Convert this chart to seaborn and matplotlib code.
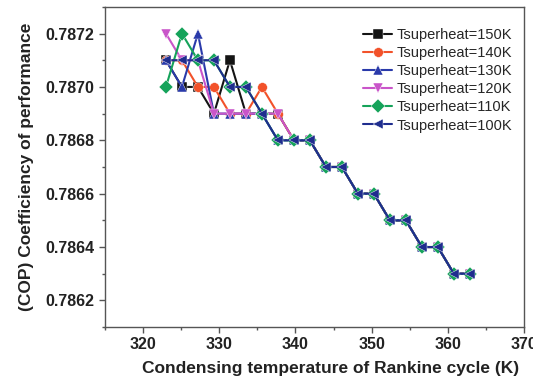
import matplotlib
matplotlib.use("Agg")
import matplotlib.pyplot as plt
import seaborn as sns
import pandas as pd
from matplotlib.ticker import MultipleLocator, FormatStrFormatter

# ---- data ----
temps = [323.0, 325.1, 327.2, 329.3, 331.4, 333.5, 335.6, 337.7, 339.8,
         341.9, 344.0, 346.1, 348.2, 350.3, 352.4, 354.5, 356.6, 358.7, 360.8, 362.9]
tail = [0.7868, 0.7867, 0.7867, 0.7866, 0.7866, 0.7865, 0.7865, 0.7864, 0.7864, 0.7863, 0.7863]
cop_150 = [0.7871, 0.7870, 0.7870, 0.7869, 0.7871, 0.7869, 0.7869, 0.7869, 0.7868] + tail
cop_140 = [0.7871, 0.7871, 0.7870, 0.7870, 0.7869, 0.7869, 0.7870, 0.7869, 0.7868] + tail
cop_130 = [0.7871, 0.7870, 0.7872, 0.7869, 0.7869, 0.7869, 0.7869, 0.7868, 0.7868] + tail
cop_120 = [0.7872, 0.7871, 0.7871, 0.7869, 0.7869, 0.7869, 0.7869, 0.7869, 0.7868] + tail
cop_110 = [0.7870, 0.7872, 0.7871, 0.7871, 0.7870, 0.7870, 0.7869, 0.7868, 0.7868] + tail
cop_100 = [0.7871, 0.7871, 0.7871, 0.7871, 0.7870, 0.7870, 0.7869, 0.7868, 0.7868] + tail

labels = ["Tsuperheat=150K", "Tsuperheat=140K", "Tsuperheat=130K",
          "Tsuperheat=120K", "Tsuperheat=110K", "Tsuperheat=100K"]
series = [cop_150, cop_140, cop_130, cop_120, cop_110, cop_100]
colors = ["#141414", "#f2522a", "#2a3aaa", "#c955c9", "#15a35a", "#1f2d8e"]
markers = ["s", "o", "^", "v", "D", "<"]

rows = []
for lab, vals in zip(labels, series):
    for t, v in zip(temps, vals):
        rows.append({"T": t, "COP": v, "series": lab})
df = pd.DataFrame(rows)

sns.set_style("ticks")
plt.rcParams["font.family"] = ["Liberation Sans", "DejaVu Sans"]

fig = plt.figure(figsize=(5.33, 3.83), dpi=100)
ax = fig.add_axes([0.197, 0.146, 0.786, 0.836])

sns.lineplot(data=df, x="T", y="COP", hue="series", style="series",
             hue_order=labels, style_order=labels,
             palette=dict(zip(labels, colors)),
             markers=dict(zip(labels, markers)), dashes=False,
             markersize=7, linewidth=1.5, markeredgewidth=0.3,
             ax=ax, sort=False)

ax.set_xlim(315, 370)
ax.set_ylim(0.78610, 0.78730)
ax.xaxis.set_major_locator(MultipleLocator(10))
ax.xaxis.set_minor_locator(MultipleLocator(5))
ax.yaxis.set_major_locator(MultipleLocator(0.0002))
ax.yaxis.set_minor_locator(MultipleLocator(0.0001))
ax.yaxis.set_major_formatter(FormatStrFormatter("%.4f"))

for s in ax.spines.values():
    s.set_visible(True)
    s.set_color("#555555")
    s.set_linewidth(1.0)
ax.tick_params(which="both", direction="out", color="#555555", width=1.0)
ax.tick_params(which="major", length=4, labelsize=11.5)
ax.tick_params(which="minor", length=2.5)
for lbl in ax.get_xticklabels() + ax.get_yticklabels():
    lbl.set_fontweight("bold")
    lbl.set_color("#222222")

ax.set_xlabel("Condensing temperature of Rankine cycle (K)", fontsize=12.5,
              fontweight="bold", color="#222222")
ax.xaxis.set_label_coords(0.538, -0.105)
ax.set_ylabel("(COP) Coefficiency of performance", fontsize=12.5,
              fontweight="bold", color="#222222", labelpad=8)

leg = ax.legend(loc="upper right", frameon=False, fontsize=10.5,
                handlelength=2.0, handletextpad=0.3, labelspacing=0.28,
                borderaxespad=0.4, bbox_to_anchor=(1.0, 0.97))

fig.savefig("out.png", dpi=100)
